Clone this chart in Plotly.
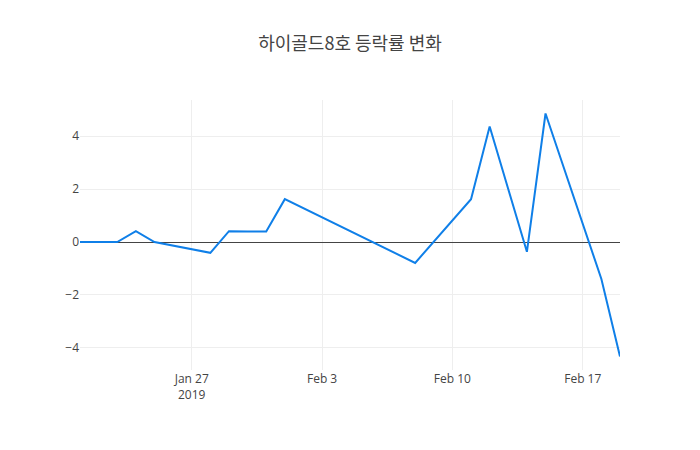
import plotly.graph_objects as go

dates = ["2019-01-21", "2019-01-22", "2019-01-23", "2019-01-24", "2019-01-25",
         "2019-01-28", "2019-01-29", "2019-01-30", "2019-01-31", "2019-02-01",
         "2019-02-08", "2019-02-11", "2019-02-12", "2019-02-14", "2019-02-15",
         "2019-02-18", "2019-02-19"]
changes = [0.0, 0.0, 0.0, 0.41, 0.0,
           -0.41, 0.41, 0.40, 0.40, 1.62,
           -0.79, 1.62, 4.37, -0.37, 4.86,
           -1.40, -4.33]

title_text = "하이골드8호 등락률 변화"

fig = go.Figure()
fig.add_trace(go.Scatter(x=dates, y=changes, mode="lines",
                         line=dict(color="#0f7fe8", width=2)))

fig.update_layout(
    width=700, height=450,
    title=dict(text=title_text, x=0.5, xanchor="center",
               font=dict(family="Noto Sans CJK KR, Open Sans, sans-serif", size=18, color="#444")),
    font=dict(family="Open Sans, Noto Sans CJK KR, sans-serif", size=12, color="#444"),
    paper_bgcolor="white", plot_bgcolor="white",
    margin=dict(l=80, r=80, t=100, b=80),
    showlegend=False,
    xaxis=dict(showgrid=True, gridcolor="#eee", zeroline=False, showline=False,
               ticks="", tickfont=dict(color="#444")),
    yaxis=dict(showgrid=True, gridcolor="#eee", zeroline=True, zerolinecolor="#444",
               zerolinewidth=1, showline=False, ticks="", tickfont=dict(color="#444")),
)

fig.write_html("out.html")
